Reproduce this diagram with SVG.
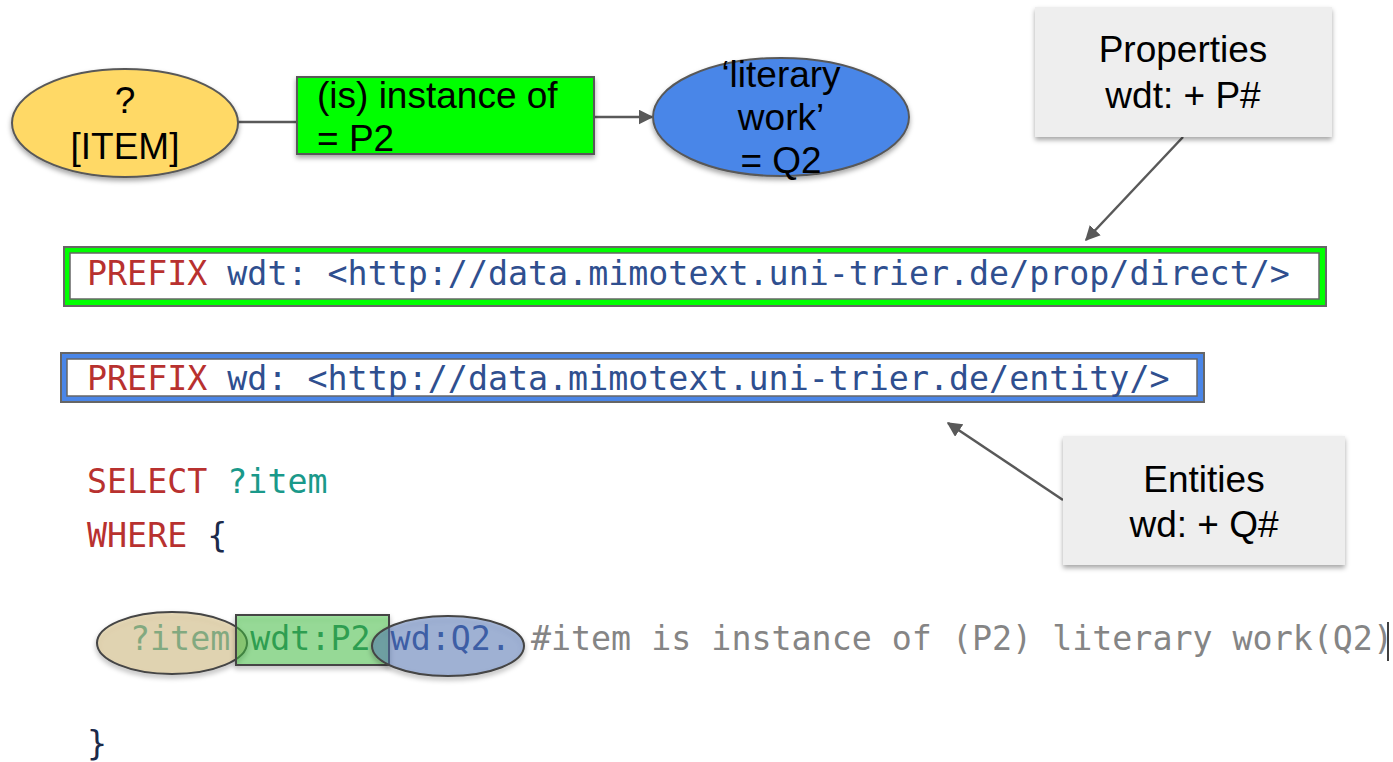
<svg xmlns="http://www.w3.org/2000/svg" width="1393" height="762" viewBox="0 0 1393 762">
  <defs>
    <filter id="shadow" x="-10%" y="-10%" width="130%" height="140%">
      <feDropShadow dx="0" dy="3" stdDeviation="2.5" flood-color="#000" flood-opacity="0.35"/>
    </filter>
    <marker id="arrow" viewBox="0 0 10 10" refX="9" refY="5" markerWidth="6" markerHeight="6" orient="auto" markerUnits="strokeWidth">
      <path d="M0,0 L10,5 L0,10 z" fill="#595959"/>
    </marker>
    <style>
      .label { font-family: "Liberation Sans", Arial, sans-serif; font-size: 37px; fill: #000; }
      .mid { text-anchor: middle; }
      .code { font-family: "DejaVu Sans Mono", "Liberation Mono", monospace; font-size: 33.3px; }
      .kw { fill: #b8312f; }
      .uri { fill: #2f4f8f; }
      .var { fill: #1a998a; }
      .prop { fill: #1f7f6a; }
      .ent { fill: #2c4c9c; }
      .cmt { fill: #858585; }
      .brace { fill: #1b2a4a; }
      .edge { stroke: #595959; stroke-width: 2.5; fill: none; }
      .note { fill: #eeeeee; filter: url(#shadow); }
      .hl { stroke: #444; stroke-width: 2; filter: url(#shadow); }
    </style>
  </defs>

  <!-- connectors -->
  <g id="connectors">
    <line class="edge" x1="238" y1="122" x2="297" y2="122"/>
    <line class="edge" x1="594" y1="117" x2="652" y2="117" marker-end="url(#arrow)"/>
    <line class="edge" x1="1183" y1="137" x2="1086" y2="240" marker-end="url(#arrow)"/>
    <line class="edge" x1="1063" y1="500" x2="948" y2="423" marker-end="url(#arrow)"/>
  </g>

  <!-- subject node -->
  <g id="item">
    <ellipse cx="125" cy="123" rx="113" ry="54" fill="#ffd966" stroke="#595959" stroke-width="2" filter="url(#shadow)"/>
    <text class="label mid" x="125" y="113">?</text>
    <text class="label mid" x="125" y="159">[ITEM]</text>
  </g>

  <!-- predicate node -->
  <g id="instance-of">
    <rect x="297" y="77" width="297" height="77" fill="#00ff00" stroke="#595959" stroke-width="2" filter="url(#shadow)"/>
    <text class="label" x="317" y="108">(is) instance of</text>
    <text class="label" x="317" y="151">= P2</text>
  </g>

  <!-- object node -->
  <g id="literary-work">
    <ellipse cx="781" cy="117" rx="128" ry="59" fill="#4a86e8" stroke="#595959" stroke-width="2" filter="url(#shadow)"/>
    <text class="label mid" x="781" y="87">‘literary</text>
    <text class="label mid" x="781" y="130">work’</text>
    <text class="label mid" x="781" y="173">= Q2</text>
  </g>

  <!-- callouts -->
  <g id="properties">
    <rect class="note" x="1035" y="7" width="297" height="130"/>
    <text class="label mid" x="1183" y="62">Properties</text>
    <text class="label mid" x="1183" y="108">wdt: + P#</text>
  </g>
  <g id="entities">
    <rect class="note" x="1063" y="436" width="282" height="129"/>
    <text class="label mid" x="1204" y="492">Entities</text>
    <text class="label mid" x="1204" y="537">wd: + Q#</text>
  </g>

  <!-- prefix declarations -->
  <g id="prefix-wdt">
    <rect x="64" y="247" width="1262" height="59" fill="#00ff00" stroke="#666" stroke-width="2"/>
    <rect x="70" y="253" width="1249" height="46" fill="#fff" stroke="#666" stroke-width="1.5"/>
    <text class="code" x="87" y="285"><tspan class="kw">PREFIX</tspan><tspan class="uri"> wdt: &lt;http://data.mimotext.uni-trier.de/prop/direct/&gt;</tspan></text>
  </g>
  <g id="prefix-wd">
    <rect x="61" y="353" width="1143" height="49" fill="#4a86e8" stroke="#666" stroke-width="2"/>
    <rect x="67" y="359" width="1130" height="37" fill="#fff" stroke="#666" stroke-width="1.5"/>
    <text class="code" x="87" y="390"><tspan class="kw">PREFIX</tspan><tspan class="uri"> wd: &lt;http://data.mimotext.uni-trier.de/entity/&gt;</tspan></text>
  </g>

  <!-- query body -->
  <g id="query">
    <text class="code" x="87" y="493"><tspan class="kw">SELECT</tspan> <tspan class="var">?item</tspan></text>
    <text class="code" x="87" y="547"><tspan class="kw">WHERE</tspan> <tspan class="brace">{</tspan></text>
    <text class="code" x="130" y="650"><tspan class="var">?item</tspan> <tspan class="prop">wdt:P2</tspan> <tspan class="ent">wd:Q2.</tspan> <tspan class="cmt">#item is instance of (P2) literary work(Q2)</tspan></text>
    <line x1="1388" y1="622" x2="1388" y2="661" stroke="#000" stroke-width="1.5"/>
    <text class="code brace" x="87" y="755">}</text>
  </g>

  <!-- translucent highlights over the triple -->
  <g id="triple-highlight">
    <ellipse class="hl" cx="172" cy="643" rx="75" ry="31" fill="#d9c183" fill-opacity="0.5"/>
    <rect class="hl" x="236" y="615" width="153" height="50" fill="#40c840" fill-opacity="0.45"/>
    <ellipse class="hl" cx="448" cy="646" rx="76" ry="30" fill="#5578bb" fill-opacity="0.45"/>
  </g>
</svg>
